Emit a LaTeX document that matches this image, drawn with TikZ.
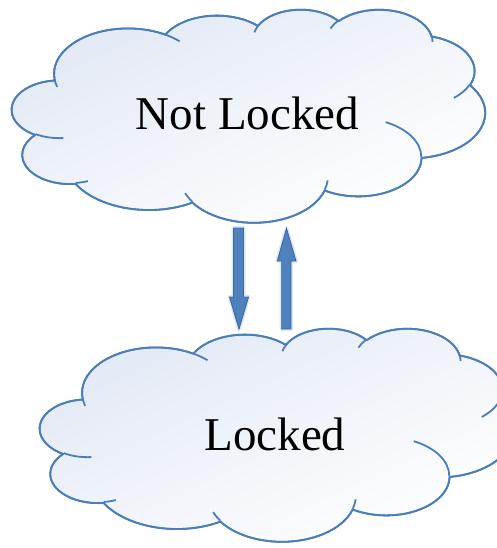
\documentclass[tikz,border=0pt]{standalone}
\usepackage{fontspec}
\setmainfont{Liberation Serif}
\definecolor{cloudline}{RGB}{74,126,187}
\definecolor{cloudtop}{RGB}{226,233,245}
\definecolor{arrowfill}{RGB}{79,129,189}
\definecolor{arrowline}{RGB}{60,105,165}
\newcommand\setooxarc[5]{%
  \pgfmathsetmacro\cloudS{atan2((#2)*sin(#4),(#3)*cos(#4))}%
  \pgfmathsetmacro\cloudE{atan2((#2)*sin((#4)+(#5)),(#3)*cos((#4)+(#5)))}%
  \pgfmathsetmacro\cloudD{\cloudE-\cloudS}%
  \pgfmathsetmacro\cloudD{((#5)>0 && \cloudD<0) ? \cloudD+360 : (((#5)<0 && \cloudD>0) ? \cloudD-360 : \cloudD)}%
  \pgfmathsetmacro\cloudE{\cloudS+\cloudD}%
  \expandafter\xdef\csname oox#1\endcsname{arc[x radius=#2, y radius=#3, start angle=\cloudS, end angle=\cloudE]}%
}
\setooxarc{A}{6.753}{9.190}{-190.48748}{123.78053}
\setooxarc{B}{5.333}{7.267}{-144.10238}{89.94523}
\setooxarc{C}{4.365}{5.945}{-145.80792}{99.72302}
\setooxarc{D}{4.857}{6.595}{-130.98607}{117.24173}
\setooxarc{E}{5.333}{7.273}{-78.70888}{109.02692}
\setooxarc{F}{6.775}{9.220}{-46.26725}{130.269}
\setooxarc{G}{5.785}{7.867}{0.62502}{114.03333}
\setooxarc{H}{6.752}{9.215}{22.4516}{115.17255}
\setooxarc{I}{7.720}{10.543}{66.24263}{75.71102}
\setooxarc{J}{4.360}{5.918}{-274.94208}{146.73557}
\setooxarc{K}{4.345}{5.945}{-246.8285}{152.51885}
\setooxarc{a}{4.345}{5.945}{86.742}{26.4295}
\setooxarc{b}{4.360}{5.918}{73.61047}{11.44747}
\setooxarc{c}{6.752}{9.215}{137.62415}{14.0811}
\setooxarc{d}{6.752}{9.215}{6.45327}{15.99835}
\setooxarc{e}{5.785}{7.867}{-70.29235}{70.91737}
\setooxarc{f}{5.333}{7.273}{30.31803}{27.7515}
\setooxarc{g}{4.857}{6.595}{-13.74433}{14.8589}
\setooxarc{h}{4.857}{6.595}{-149.18145}{18.19537}
\setooxarc{i}{4.365}{5.945}{-163.49427}{17.68635}
\setooxarc{j}{6.753}{9.190}{-66.70695}{12.31935}
\setooxarc{k}{6.753}{9.190}{157.65435}{11.85817}
\newcommand\drawcloud{%
  \path[cloudshape, top color=cloudtop, bottom color=white, shading angle=25]
    (3.9,14.37) \ooxA \ooxB \ooxC \ooxD \ooxE \ooxF \ooxG \ooxH \ooxI \ooxJ \ooxK -- cycle;
  \draw[cloudshape]
    (3.9,14.37) \ooxA \ooxB \ooxC \ooxD \ooxE \ooxF \ooxG \ooxH \ooxI \ooxJ \ooxK -- cycle;
  \draw[cloudshape]
    (4.693,26.177) \ooxa
    (6.928,34.899) \ooxb
    (16.478,39.090) \ooxc
    (28.827,34.751) \ooxd
    (34.129,22.954) \ooxe
    (41.798,15.354) \ooxf
    (38.324,5.426) \ooxg
    (29.078,3.952) \ooxh
    (22.141,4.720) \ooxi
    (14.000,5.192) \ooxj
    (4.127,15.789) \ooxk;
}
\begin{document}
\begin{tikzpicture}[x=1pt,y=-1pt,
  cloudshape/.style={draw=cloudline, line width=1.8pt, line join=round},
  blockarrow/.style={fill=arrowfill, draw=arrowline, line width=0.9pt, line join=miter},
  arrowglow/.style={draw=arrowfill!18, line width=4pt, line join=round},
  label/.style={font=\fontsize{47}{56}\selectfont, anchor=base, inner sep=0pt}]
\useasboundingbox (0,0) rectangle (496,548);
\fill[white] (0,0) rectangle (496,548);
% top cloud
\begin{scope}[shift={(12,9)}, x=10.95pt, y=-4.931pt]
  \drawcloud
\end{scope}
% bottom cloud
\begin{scope}[shift={(40,328)}, x=10.95pt, y=-4.931pt]
  \drawcloud
\end{scope}
\node[label] (notlocked) at (247.5,130) {Not Locked};
\node[label] (locked) at (275,450) {Locked};
% block arrows
\coordinate (dtip) at (239,329);
\coordinate (utip) at (286.5,228.5);
\foreach \s in {arrowglow, blockarrow}{
  \draw[\s] (233.5,228) -- (243.5,228) -- (243.5,297) -- (248.5,297) -- (dtip)
    -- (229.5,297) -- (233.5,297) -- cycle;
  \draw[\s] (281.7,329) -- (291,329) -- (291,261) -- (296,261) -- (utip)
    -- (277.3,261) -- (281.7,261) -- cycle;
}
\end{tikzpicture}
\end{document}
